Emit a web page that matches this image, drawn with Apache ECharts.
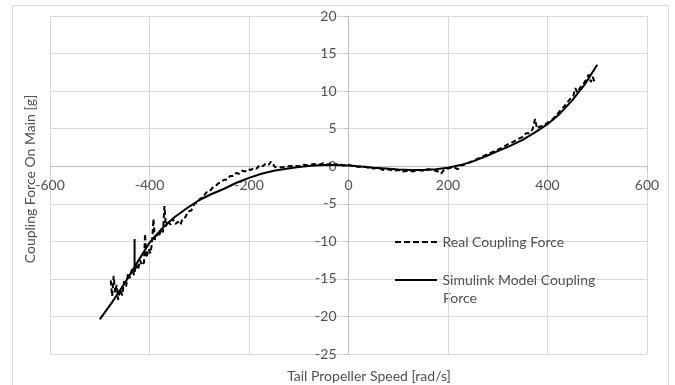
<!DOCTYPE html>
<html>
<head>
<meta charset="utf-8">
<script src="https://cdn.jsdelivr.net/npm/echarts@6/dist/echarts.min.js"></script>
<style>
  html, body { margin: 0; padding: 0; background: #ffffff; }
  #chart { width: 675px; height: 385px; }
</style>
</head>
<body>
<div id="chart"></div>
<script>
// Measured coupling force (noisy, dashed)
const realSpeed = [
  -478, -475, -472, -469, -466, -463, -459, -455, -451, -447, -443, -439, -435, -431, -427, -423,
  -419, -415, -411, -409, -406, -402, -398, -395, -392, -389, -385, -381, -377, -373, -370, -367,
  -363, -358, -353, -348, -343, -338, -333, -328, -322, -316, -310, -304, -298, -292, -286, -280,
  -274, -268, -262, -256, -250, -244, -238, -232, -226, -220, -214, -208, -202, -196, -190, -184,
  -178, -172, -166, -160, -156, -152, -148, -140, -130, -120, -110, -100, -90, -80, -70, -60,
  -50, -40, -35, -30, -20, -10, 0, 10, 20, 30, 40, 50, 60, 70, 80, 90,
  100, 110, 120, 130, 140, 150, 160, 170, 180, 186, 192, 200, 210, 220, 226, 232,
  240, 250, 260, 270, 280, 290, 300, 310, 320, 330, 340, 350, 357, 363, 370, 375,
  379, 385, 392, 398, 404, 410, 416, 422, 428, 434, 440, 446, 452, 456, 460, 466,
  472, 478, 483, 487, 491, 494
];
const realForce = [
  -15.2, -17.3, -14.6, -16.8, -15.8, -17.8, -16.4, -17.2, -15.3, -16.0, -14.2, -14.9, -13.6, -14.5, -13.0, -13.8,
  -12.5, -13.2, -12.8, -9.0, -12.2, -11.0, -11.6, -10.2, -7.0, -9.8, -9.0, -9.4, -8.4, -8.8, -5.3, -8.0,
  -7.2, -7.8, -7.0, -7.7, -7.4, -7.8, -6.9, -6.8, -6.0, -5.9, -5.0, -4.9, -4.3, -4.1, -3.5, -3.4,
  -2.9, -2.7, -2.3, -2.1, -1.8, -1.8, -1.3, -1.3, -0.9, -1.0, -0.6, -0.7, -0.4, -0.5, -0.2, -0.3,
  0.2, 0.0, 0.4, 0.2, 0.6, 0.3, -0.1, -0.2, -0.1, 0.0, 0.1, 0.0, 0.2, 0.1, 0.3, 0.2,
  0.4, 0.2, 0.5, 0.2, 0.3, 0.1, 0.2, 0.0, -0.1, 0.0, -0.2, -0.3, -0.2, -0.5, -0.4, -0.6,
  -0.5, -0.7, -0.6, -0.7, -0.5, -0.6, -0.4, -0.5, -0.7, -1.0, -0.5, -0.3, -0.1, -0.4, 0.1, 0.2,
  0.4, 0.7, 1.0, 1.3, 1.6, 1.9, 2.2, 2.5, 2.9, 3.2, 3.6, 3.9, 4.4, 4.4, 4.9, 6.3,
  5.0, 5.3, 5.4, 5.7, 6.0, 6.2, 6.7, 7.1, 7.6, 8.0, 8.5, 9.0, 9.4, 10.4, 9.8, 10.5,
  10.9, 11.6, 12.2, 11.2, 11.9, 11.3
];

// Simulink model coupling force (smooth, with one step artefact near -430)
const modelSpeed = [
  -500, -475, -450, -430, -430, -430, -400, -375, -350, -325, -300, -275, -250, -225, -200, -175,
  -150, -125, -100, -75, -50, -25, 0, 25, 50, 75, 100, 125, 150, 175, 200, 225,
  250, 275, 300, 325, 350, 375, 400, 425, 450, 475, 500
];
const modelForce = [
  -20.4, -18.1, -15.6, -13.4, -9.7, -13.4, -10.2, -8.3, -6.8, -5.6, -4.5, -3.7, -3.0, -2.2, -1.55, -1.0,
  -0.6, -0.35, -0.1, 0.05, 0.15, 0.15, 0.1, -0.05, -0.2, -0.3, -0.45, -0.5, -0.5, -0.4, -0.2, 0.15,
  0.65, 1.3, 2.0, 2.7, 3.5, 4.5, 5.6, 7.0, 8.8, 10.9, 13.5
];

const xTitle = 'Tail Propeller Speed [rad/s]';
const yTitle = 'Coupling Force On Main [g]';
const realName = 'Real Coupling Force';
const modelName = 'Simulink Model Coupling Force';

const pairs = (xs, ys) => xs.map((x, i) => [x, ys[i]]);

const FONT = 'Lato';
const FS = 14;
const TEXT = '#505050';
const GRID = '#d9d9d9';
const AXIS = '#bfbfbf';

// plot box
const G = { left: 50, top: 16, width: 597, height: 338 };
const X_MIN = -600, X_MAX = 600, Y_MIN = -25, Y_MAX = 20;
// shift the axes so they cross at the origin
const xAxisOffset = -(G.height * (0 - Y_MIN) / (Y_MAX - Y_MIN));
const yAxisOffset = -(G.width * (0 - X_MIN) / (X_MAX - X_MIN));

// legend glyphs: five short dashes, and a plain bar
const dashIcon = 'path://M0,0h6v2h-6zM9,0h6v2h-6zM18,0h6v2h-6zM27,0h6v2h-6zM36,0h6v2h-6z';
const solidIcon = 'path://M0,0h42v2h-42z';

const chart = echarts.init(document.getElementById('chart'), null, { renderer: 'canvas' });

chart.setOption({
  animation: false,
  backgroundColor: '#ffffff',
  textStyle: { fontFamily: FONT, color: TEXT },
  grid: Object.assign({ containLabel: false }, G),
  xAxis: {
    type: 'value',
    min: X_MIN, max: X_MAX, interval: 200,
    offset: xAxisOffset,
    axisLine: { onZero: false, lineStyle: { color: AXIS, width: 1 } },
    axisTick: { show: true, length: 4, lineStyle: { color: AXIS } },
    axisLabel: { color: TEXT, fontFamily: FONT, fontSize: FS, margin: 12 },
    splitLine: { show: true, lineStyle: { color: GRID, width: 1 } }
  },
  yAxis: {
    type: 'value',
    min: Y_MIN, max: Y_MAX, interval: 5,
    offset: yAxisOffset,
    axisLine: { onZero: false, lineStyle: { color: AXIS, width: 1 } },
    axisTick: { show: true, length: 4, lineStyle: { color: AXIS } },
    axisLabel: { color: TEXT, fontFamily: FONT, fontSize: FS, margin: 12 },
    splitLine: { show: true, lineStyle: { color: GRID, width: 1 } }
  },
  legend: [
    {
      data: [{ name: realName, icon: dashIcon }],
      left: 395, top: 235, padding: 0,
      itemWidth: 43, itemHeight: 2, itemGap: 4,
      itemStyle: { color: '#000000' },
      textStyle: { color: TEXT, fontFamily: FONT, fontSize: FS }
    },
    {
      data: [{ name: modelName, icon: solidIcon }],
      left: 395, top: 273, padding: 0,
      itemWidth: 43, itemHeight: 2, itemGap: 4,
      itemStyle: { color: '#000000' },
      formatter: () => 'Simulink Model Coupling',
      textStyle: { color: TEXT, fontFamily: FONT, fontSize: FS }
    }
  ],
  graphic: [
    {
      type: 'rect', silent: true, z: -10,
      shape: { x: 12.5, y: 5.5, width: 656, height: 420 },
      style: { fill: 'none', stroke: GRID, lineWidth: 1 }
    },
    {
      type: 'text', silent: true,
      x: 443, y: 298,
      style: { text: 'Force', fill: TEXT, font: FS + 'px ' + FONT, verticalAlign: 'middle' }
    },
    {
      type: 'text', silent: true,
      x: 369, y: 376,
      style: { text: xTitle, fill: TEXT, font: FS + 'px ' + FONT, align: 'center', verticalAlign: 'middle' }
    },
    {
      type: 'text', silent: true,
      x: 30, y: 179, rotation: Math.PI / 2,
      style: { text: yTitle, fill: TEXT, font: FS + 'px ' + FONT, align: 'center', verticalAlign: 'middle' }
    }
  ],
  series: [
    {
      name: realName,
      type: 'line',
      data: pairs(realSpeed, realForce),
      showSymbol: false, symbol: 'none',
      lineStyle: { color: '#000000', width: 2, type: [5, 3] },
      itemStyle: { color: '#000000' },
      z: 3
    },
    {
      name: modelName,
      type: 'line',
      data: pairs(modelSpeed, modelForce),
      showSymbol: false, symbol: 'none',
      lineStyle: { color: '#000000', width: 2 },
      itemStyle: { color: '#000000' },
      z: 4
    }
  ]
});
</script>
</body>
</html>
